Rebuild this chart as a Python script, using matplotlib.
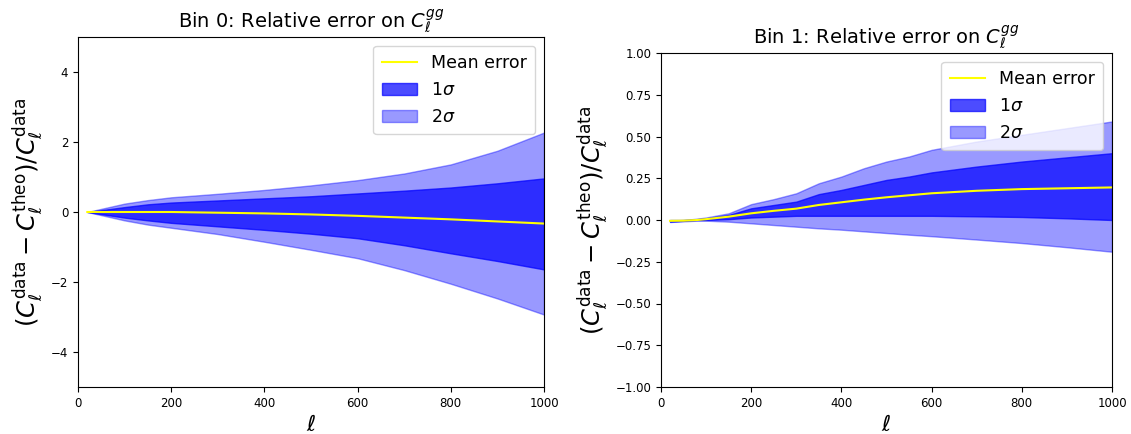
import numpy as np
import matplotlib
matplotlib.use("Agg")
import matplotlib.pyplot as plt

# ---------------- DATA ----------------
# Bin 0
ell_bin0 = [20, 60, 100, 150, 200, 300, 400, 500, 600, 700, 800, 900, 1000]
mean_bin0 = [0.0, 0.0, 0.0, 0.0, 0.0, -0.02, -0.04, -0.07, -0.11, -0.16, -0.21, -0.27, -0.33]
up1_bin0 = [0.0, 0.07, 0.14, 0.22, 0.27, 0.33, 0.39, 0.45, 0.53, 0.61, 0.70, 0.82, 0.96]
lo1_bin0 = [0.0, -0.08, -0.16, -0.24, -0.31, -0.41, -0.51, -0.62, -0.75, -0.95, -1.18, -1.40, -1.64]
up2_bin0 = [0.0, 0.12, 0.24, 0.34, 0.42, 0.52, 0.63, 0.76, 0.91, 1.10, 1.36, 1.75, 2.27]
lo2_bin0 = [0.0, -0.12, -0.24, -0.36, -0.45, -0.63, -0.85, -1.08, -1.32, -1.66, -2.05, -2.47, -2.93]

# Bin 1
ell_bin1 = [20, 50, 80, 100, 150, 200, 250, 300, 350, 400, 450, 500, 550, 600, 700, 800, 900, 1000]
mean_bin1 = [-0.005, -0.004, 0.0, 0.005, 0.02, 0.04, 0.055, 0.068, 0.09, 0.106, 0.122, 0.136, 0.148, 0.16, 0.175, 0.185, 0.19, 0.195]
up1_bin1 = [0.0, 0.0, 0.005, 0.01, 0.03, 0.07, 0.09, 0.11, 0.155, 0.18, 0.21, 0.24, 0.26, 0.285, 0.32, 0.35, 0.375, 0.40]
lo1_bin1 = [-0.01, -0.005, 0.0, 0.0, 0.005, 0.015, 0.02, 0.025, 0.025, 0.025, 0.025, 0.025, 0.025, 0.025, 0.022, 0.018, 0.01, 0.0]
up2_bin1 = [-0.005, 0.0, 0.008, 0.015, 0.04, 0.095, 0.125, 0.16, 0.22, 0.26, 0.31, 0.35, 0.38, 0.42, 0.47, 0.51, 0.55, 0.59]
lo2_bin1 = [-0.012, -0.008, -0.004, -0.004, -0.01, -0.02, -0.03, -0.04, -0.05, -0.058, -0.068, -0.078, -0.088, -0.097, -0.117, -0.138, -0.163, -0.19]

YLABEL = r'$(C_\ell^{\rm data} - C_\ell^{\rm theo})/C_\ell^{\rm data}$'


def draw_panel(ax, ell, mean, up1, lo1, up2, lo2, title, ylim, yticks):
    ax.plot(ell, mean, color='yellow', lw=1.5, label='Mean error')
    ax.fill_between(ell, lo1, up1, color='blue', alpha=0.7, label=r'$1\sigma$')
    ax.fill_between(ell, lo2, up2, color='blue', alpha=0.4, label=r'$2\sigma$')
    ax.set_title(title, fontsize=14)
    ax.set_xlim(0, 1000)
    ax.set_ylim(*ylim)
    ax.set_yticks(yticks)
    ax.tick_params(labelsize=8.5)
    ax.set_xlabel(r'$\ell$', fontsize=16)
    ax.set_ylabel(YLABEL, fontsize=17.5)
    ax.legend(loc='upper right', fontsize=12.5, borderpad=0.5)


fig = plt.figure(figsize=(11.31, 4.34), dpi=100)

ax0 = fig.add_axes([78 / 1131, 47 / 434, 466 / 1131, 350 / 434])
draw_panel(ax0, ell_bin0, mean_bin0, up1_bin0, lo1_bin0, up2_bin0, lo2_bin0,
           r'Bin 0: Relative error on $C_\ell^{gg}$', (-5, 5), [-4, -2, 0, 2, 4])

ax1 = fig.add_axes([661 / 1131, 47 / 434, 451 / 1131, 334 / 434])
draw_panel(ax1, ell_bin1, mean_bin1, up1_bin1, lo1_bin1, up2_bin1, lo2_bin1,
           r'Bin 1: Relative error on $C_\ell^{gg}$', (-1, 1), np.arange(-1, 1.01, 0.25))

fig.savefig('out.png', dpi=100)
